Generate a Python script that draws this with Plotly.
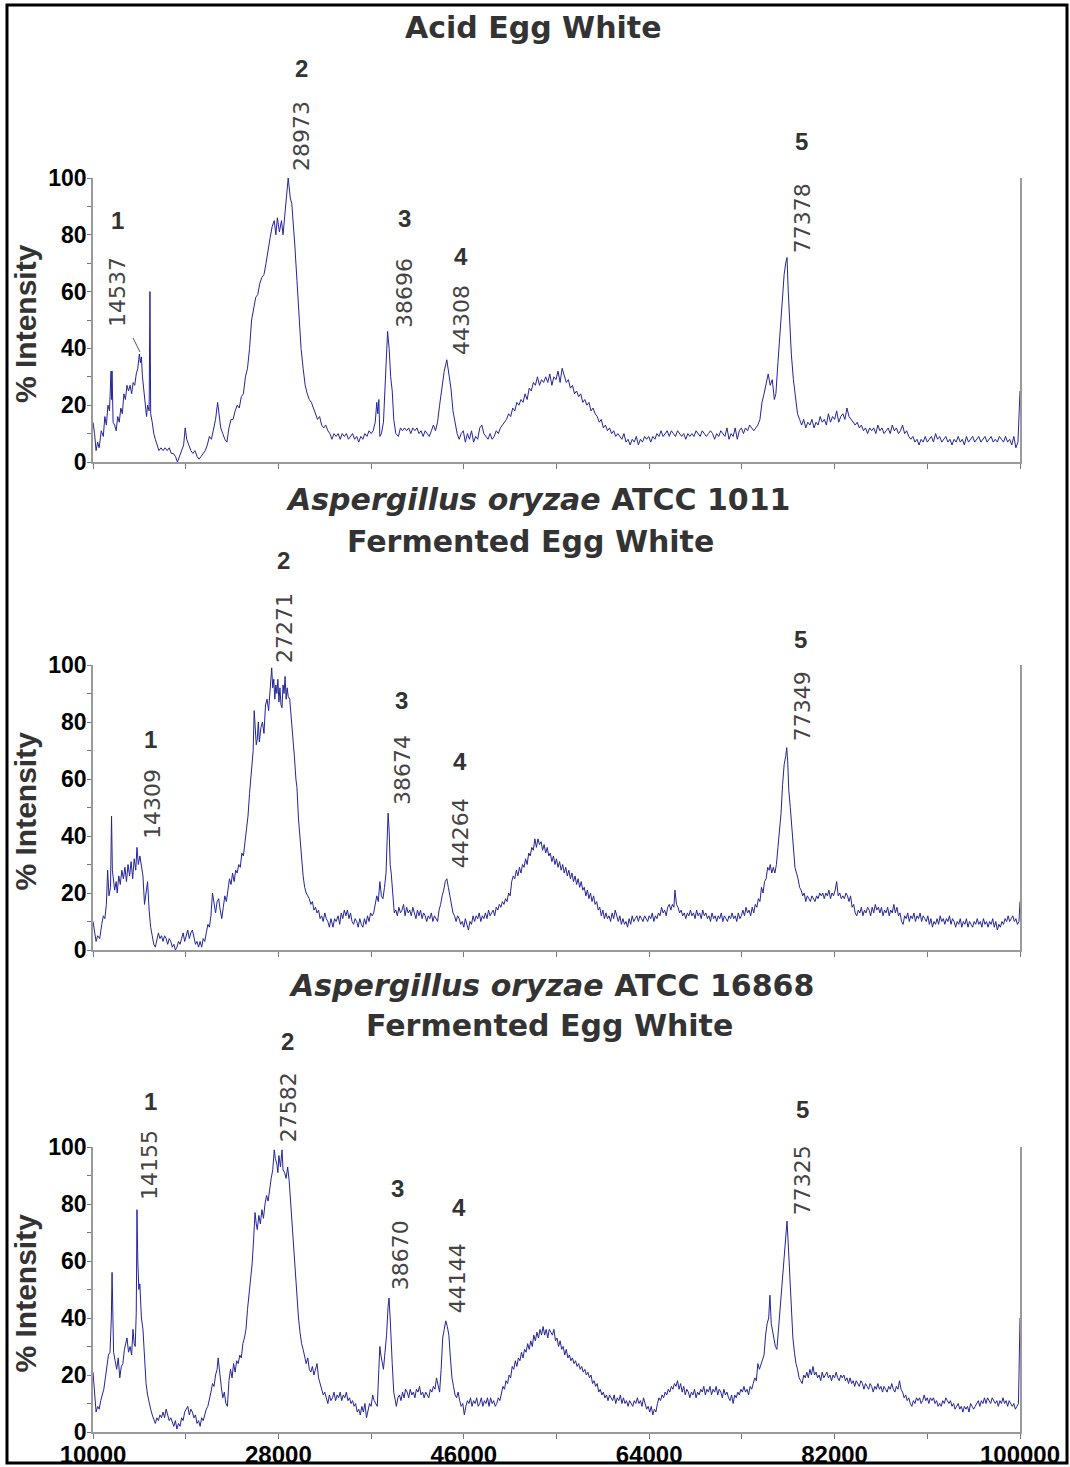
import plotly.graph_objects as go

# ---------------- DATA ----------------
# (mass in Da, % intensity)
acid_egg_white = [
(10000,14),(10150,10),(10300,4),(10450,7),(10600,5),(10800,11),(11000,9),(11150,16),(11300,13),(11450,20),(11600,18),(11750,32),(11800,22),(11850,32),(11950,14),(12100,13),(12250,11),(12400,16),(12550,14),(12700,19),(12850,17),(13000,24),(13150,22),(13300,27),(13450,25),(13600,27),(13750,24),(13900,28),(14050,27),(14200,31),(14350,33),(14500,38),(14600,35),(14700,37),(14800,30),(14900,27),(15050,22),(15200,16),(15300,20),(15450,18),(15530,60),(15600,17),(15750,14),(15900,10),(16050,8),(16200,6),(16400,4),(16600,5),(16800,4),(17000,5),(17200,4),(17400,5),(17600,3),(17800,3),(18000,2),(18200,0),(18400,2),(18600,4),(18800,6),(18950,12),(19100,8),(19300,6),(19500,4),(19700,3),(19900,4),(20100,2),(20300,1),(20500,2),(20700,3),(20900,4),(21100,6),(21300,9),(21500,8),(21700,12),(21900,15),(22100,21),(22250,17),(22400,12),(22600,10),(22800,8),(23000,7),(23200,12),(23400,15),(23600,15),(23800,18),(24000,20),(24200,19),(24400,23),(24600,24),(24800,30),(25000,33),(25200,40),(25400,50),(25600,54),(25800,58),(26000,59),(26200,63),(26400,65),(26600,66),(26800,70),(27000,75),(27200,79),(27400,83),(27600,85),(27750,80),(27900,86),(28100,81),(28300,85),(28450,80),(28650,90),(28800,94),(28950,100),(29050,96),(29150,93),(29300,91),(29450,84),(29600,76),(29800,64),(30000,50),(30200,40),(30400,33),(30600,27),(30800,24),(31000,22),(31200,21),(31400,19),(31600,17),(31800,15),(32000,16),(32200,13),(32400,12),(32600,13),(32800,11),(33000,10),(33200,8),(33400,10),(33600,9),(33800,10),(34000,8),(34200,10),(34400,9),(34600,10),(34800,8),(35000,9),(35200,10),(35400,8),(35600,9),(35800,7),(36000,9),(36200,8),(36400,10),(36600,9),(36800,11),(37000,10),(37200,11),(37400,14),(37550,21),(37650,17),(37750,22),(37850,9),(38000,10),(38200,14),(38400,30),(38600,46),(38750,40),(38900,30),(39050,25),(39200,15),(39400,10),(39650,9),(39850,12),(40050,11),(40250,12),(40450,11),(40650,12),(40850,10),(41050,12),(41250,11),(41450,12),(41650,10),(41850,11),(42050,9),(42250,11),(42450,10),(42650,9),(42850,11),(43050,13),(43250,11),(43450,14),(43650,20),(43850,25),(44100,32),(44350,36),(44550,31),(44750,26),(44950,18),(45150,14),(45350,10),(45550,8),(45750,10),(45950,11),(46150,7),(46350,10),(46550,8),(46750,11),(46950,7),(47150,9),(47350,8),(47550,12),(47750,13),(47950,10),(48150,9),(48350,8),(48550,10),(48750,8),(48950,9),(49150,11),(49350,10),(49550,12),(49750,13),(49950,14),(50150,15),(50350,17),(50550,16),(50750,19),(50950,18),(51150,21),(51350,20),(51550,22),(51750,21),(51950,24),(52150,22),(52350,26),(52550,25),(52750,28),(52950,27),(53150,30),(53350,27),(53550,29),(53750,28),(53950,30),(54150,28),(54350,31),(54550,27),(54750,30),(54950,29),(55150,32),(55350,28),(55550,33),(55750,30),(55950,28),(56150,29),(56350,26),(56550,27),(56750,24),(56950,25),(57150,23),(57350,24),(57550,21),(57750,22),(57950,20),(58150,21),(58350,18),(58550,19),(58750,17),(58950,16),(59150,14),(59350,15),(59550,12),(59750,13),(59950,11),(60150,12),(60350,10),(60550,11),(60750,9),(60950,10),(61150,9),(61350,8),(61550,10),(61750,7),(61950,8),(62150,6),(62350,8),(62550,7),(62750,9),(62950,6),(63150,8),(63350,7),(63550,9),(63750,8),(63950,9),(64150,7),(64350,9),(64550,8),(64750,10),(64950,9),(65150,11),(65350,9),(65550,10),(65750,11),(65950,9),(66150,11),(66350,10),(66550,9),(66750,11),(66950,10),(67150,9),(67350,10),(67550,8),(67750,10),(67950,9),(68150,10),(68350,9),(68550,11),(68750,10),(68950,9),(69150,11),(69350,10),(69550,9),(69750,10),(69950,11),(70150,10),(70350,8),(70550,10),(70750,9),(70950,11),(71150,10),(71350,9),(71550,12),(71750,8),(71950,10),(72150,9),(72350,12),(72550,8),(72750,11),(72950,12),(73150,10),(73350,12),(73550,11),(73750,13),(73950,12),(74150,11),(74350,12),(74550,13),(74750,15),(74950,21),(75150,24),(75350,27),(75550,31),(75750,27),(75950,29),(76150,22),(76300,24),(76500,35),(76700,45),(76900,58),(77100,66),(77250,70),(77380,72),(77500,60),(77650,48),(77800,38),(78000,29),(78200,22),(78400,17),(78600,15),(78800,13),(79000,15),(79200,12),(79400,14),(79600,13),(79800,15),(80000,12),(80200,14),(80400,13),(80600,16),(80800,14),(81000,15),(81200,13),(81400,17),(81600,14),(81800,16),(82000,15),(82200,18),(82400,14),(82600,16),(82800,17),(83000,15),(83200,19),(83400,16),(83600,15),(83800,14),(84000,13),(84200,14),(84400,12),(84600,13),(84800,11),(85000,12),(85200,10),(85400,12),(85600,11),(85800,12),(86000,10),(86200,13),(86400,11),(86600,12),(86800,10),(87000,11),(87200,12),(87400,10),(87600,13),(87800,11),(88000,12),(88200,10),(88400,11),(88600,13),(88800,10),(89000,11),(89200,9),(89400,8),(89600,9),(89800,7),(90000,8),(90200,6),(90400,8),(90600,7),(90800,9),(91000,7),(91200,8),(91400,9),(91600,7),(91800,10),(92000,8),(92200,9),(92400,7),(92600,8),(92800,9),(93000,7),(93200,8),(93400,6),(93600,8),(93800,7),(94000,9),(94200,7),(94400,8),(94600,6),(94800,9),(95000,7),(95200,8),(95400,9),(95600,7),(95800,8),(96000,9),(96200,7),(96400,8),(96600,9),(96800,7),(97000,8),(97200,9),(97400,7),(97600,8),(97800,7),(98000,9),(98200,8),(98400,7),(98600,9),(98800,7),(99000,8),(99200,6),(99400,9),(99600,5),(99800,7),(100000,25)]

atcc1011_egg_white = [
(10000,10),(10150,6),(10300,3),(10450,5),(10650,4),(10850,9),(11000,12),(11150,11),(11300,16),(11420,28),(11550,19),(11700,22),(11800,47),(11880,28),(11950,26),(12100,21),(12250,24),(12350,20),(12500,26),(12650,23),(12800,28),(12950,25),(13100,29),(13250,24),(13400,30),(13550,26),(13700,31),(13850,25),(14000,32),(14150,28),(14270,36),(14400,30),(14550,33),(14700,29),(14850,26),(15000,16),(15150,20),(15300,24),(15450,14),(15600,8),(15750,5),(15900,2),(16050,1),(16200,4),(16350,6),(16500,4),(16650,5),(16800,3),(16950,5),(17100,4),(17250,2),(17400,4),(17550,3),(17700,1),(17850,2),(18000,0),(18150,1),(18300,3),(18450,2),(18600,4),(18750,6),(18900,3),(19050,5),(19200,7),(19350,4),(19500,6),(19650,7),(19800,4),(19950,2),(20100,3),(20250,1),(20400,3),(20550,1),(20700,4),(20850,3),(21000,6),(21150,9),(21300,8),(21450,12),(21600,20),(21750,16),(21900,13),(22050,17),(22200,18),(22350,14),(22500,11),(22650,15),(22800,19),(22950,17),(23100,22),(23250,25),(23400,23),(23550,27),(23700,24),(23850,28),(24000,27),(24150,30),(24300,29),(24450,34),(24600,33),(24750,38),(24900,42),(25050,47),(25200,55),(25350,62),(25450,64),(25550,70),(25650,84),(25750,78),(25850,72),(25950,74),(26050,80),(26150,73),(26300,78),(26450,80),(26600,76),(26750,86),(26900,88),(27050,84),(27200,93),(27350,99),(27450,92),(27550,95),(27650,88),(27750,93),(27850,90),(27950,95),(28050,87),(28150,92),(28250,86),(28350,85),(28450,93),(28550,90),(28650,96),(28750,88),(28850,92),(28950,89),(29100,88),(29250,82),(29400,76),(29550,68),(29700,60),(29800,57),(29950,46),(30100,39),(30250,31),(30400,26),(30550,22),(30700,20),(30850,19),(31000,18),(31150,16),(31300,17),(31450,14),(31600,15),(31750,13),(31900,14),(32050,11),(32200,12),(32350,10),(32500,13),(32650,11),(32800,10),(32950,8),(33100,11),(33300,8),(33450,11),(33600,10),(33800,12),(33950,9),(34100,13),(34250,11),(34400,14),(34550,12),(34700,14),(34850,11),(35000,13),(35150,10),(35300,9),(35450,11),(35600,10),(35750,8),(35900,11),(36050,9),(36200,8),(36350,11),(36500,9),(36650,12),(36800,10),(36950,13),(37100,12),(37250,13),(37400,16),(37550,19),(37700,17),(37850,24),(38000,19),(38150,18),(38300,22),(38450,27),(38550,38),(38650,48),(38750,42),(38850,30),(38950,27),(39100,18),(39250,13),(39400,14),(39550,12),(39700,15),(39850,13),(40000,14),(40150,16),(40300,12),(40450,15),(40600,13),(40750,14),(40900,12),(41050,15),(41200,13),(41350,11),(41500,14),(41650,12),(41800,14),(41950,11),(42100,13),(42250,12),(42400,10),(42550,12),(42700,11),(42850,13),(43000,10),(43150,12),(43300,11),(43450,10),(43600,14),(43750,16),(43900,19),(44050,21),(44200,24),(44350,25),(44500,22),(44650,19),(44800,15),(44950,13),(45100,12),(45250,10),(45400,12),(45550,11),(45700,9),(45850,10),(46000,8),(46150,11),(46300,9),(46450,7),(46600,10),(46750,9),(46900,12),(47050,10),(47200,12),(47350,11),(47500,13),(47650,10),(47800,12),(47950,11),(48100,13),(48250,11),(48400,14),(48550,12),(48700,13),(48850,14),(49000,12),(49150,15),(49300,14),(49450,16),(49600,15),(49750,17),(49900,16),(50050,18),(50200,17),(50350,20),(50500,19),(50650,24),(50800,26),(50950,25),(51100,28),(51250,26),(51400,29),(51550,27),(51700,30),(51850,29),(52000,32),(52150,30),(52300,34),(52450,33),(52600,36),(52750,35),(52900,39),(53050,36),(53200,39),(53350,37),(53500,38),(53650,35),(53800,37),(53950,34),(54100,36),(54250,33),(54400,34),(54550,31),(54700,33),(54850,30),(55000,32),(55150,29),(55300,31),(55450,28),(55600,30),(55750,27),(55900,29),(56050,26),(56200,28),(56350,25),(56500,27),(56650,24),(56800,26),(56950,23),(57100,25),(57250,22),(57400,24),(57550,21),(57700,22),(57850,19),(58000,21),(58150,18),(58300,20),(58450,17),(58600,19),(58750,16),(58900,17),(59050,14),(59200,15),(59350,12),(59500,14),(59650,11),(59800,13),(59950,11),(60100,12),(60250,10),(60400,13),(60550,11),(60700,14),(60850,12),(61000,10),(61150,12),(61300,9),(61450,11),(61600,9),(61750,10),(61900,8),(62050,11),(62200,9),(62350,12),(62500,10),(62650,11),(62800,12),(62950,10),(63100,12),(63250,11),(63400,10),(63550,12),(63700,11),(63850,10),(64000,12),(64150,11),(64300,13),(64450,10),(64600,12),(64750,11),(64900,13),(65050,12),(65200,15),(65350,13),(65500,14),(65650,12),(65800,15),(65950,16),(66100,14),(66250,16),(66400,15),(66500,21),(66650,16),(66800,15),(66950,13),(67100,14),(67250,12),(67400,13),(67550,11),(67700,13),(67850,12),(68000,14),(68150,12),(68300,13),(68450,11),(68600,14),(68750,12),(68900,13),(69050,11),(69200,14),(69350,12),(69500,13),(69650,11),(69800,12),(69950,10),(70100,13),(70250,11),(70400,12),(70550,10),(70700,12),(70850,11),(71000,13),(71150,10),(71300,12),(71450,11),(71600,10),(71750,12),(71900,11),(72050,13),(72200,11),(72350,12),(72500,10),(72650,13),(72800,11),(72950,12),(73100,14),(73250,12),(73400,15),(73550,13),(73700,14),(73850,12),(74000,15),(74150,13),(74300,16),(74450,15),(74600,18),(74750,17),(74900,22),(75050,20),(75200,24),(75350,25),(75500,29),(75650,28),(75750,30),(75900,27),(76050,29),(76200,27),(76350,30),(76500,36),(76650,42),(76800,48),(76950,58),(77100,65),(77250,68),(77350,71),(77450,66),(77550,56),(77700,50),(77850,42),(78000,35),(78150,29),(78300,27),(78450,25),(78600,22),(78750,21),(78900,19),(79050,20),(79200,17),(79350,19),(79500,18),(79650,17),(79800,19),(79950,18),(80100,17),(80250,19),(80400,18),(80550,20),(80700,19),(80850,20),(81000,18),(81150,20),(81300,19),(81450,21),(81600,18),(81750,20),(81900,19),(82050,21),(82200,24),(82350,19),(82500,20),(82650,18),(82800,19),(82950,18),(83100,20),(83250,19),(83400,17),(83550,19),(83700,15),(83850,16),(84000,13),(84150,12),(84300,14),(84450,13),(84600,15),(84750,12),(84900,14),(85050,13),(85200,15),(85350,14),(85500,12),(85650,15),(85800,13),(85950,16),(86100,14),(86250,15),(86400,13),(86550,15),(86700,12),(86850,14),(87000,13),(87150,15),(87300,12),(87450,14),(87600,13),(87750,16),(87900,13),(88050,15),(88200,12),(88350,13),(88500,10),(88650,9),(88800,12),(88950,11),(89100,13),(89250,10),(89400,12),(89550,11),(89700,13),(89850,10),(90000,12),(90150,11),(90300,13),(90450,10),(90600,12),(90750,11),(90900,10),(91050,12),(91200,9),(91350,11),(91500,8),(91650,10),(91800,9),(91950,11),(92100,9),(92250,12),(92400,10),(92550,11),(92700,9),(92850,11),(93000,10),(93150,12),(93300,9),(93450,11),(93600,10),(93750,8),(93900,10),(94050,9),(94200,11),(94350,8),(94500,10),(94650,9),(94800,11),(94950,8),(95100,10),(95250,9),(95400,8),(95550,10),(95700,9),(95850,11),(96000,9),(96150,10),(96300,8),(96450,11),(96600,9),(96750,10),(96900,8),(97050,10),(97200,9),(97350,11),(97500,8),(97650,10),(97800,7),(97950,9),(98100,8),(98250,10),(98400,9),(98550,11),(98700,10),(98850,12),(99000,10),(99150,11),(99300,12),(99450,10),(99600,11),(99750,9),(99900,10),(100000,17)]

atcc16868_egg_white = [
(10000,21),(10150,12),(10300,7),(10450,9),(10600,8),(10750,11),(10900,13),(11050,15),(11200,19),(11350,24),(11500,27),(11650,28),(11780,40),(11850,56),(11920,31),(12000,28),(12150,25),(12300,22),(12450,26),(12600,19),(12750,23),(12900,24),(13050,29),(13200,31),(13300,33),(13450,28),(13600,30),(13750,27),(13880,36),(14000,31),(14100,30),(14200,42),(14270,78),(14350,60),(14450,50),(14550,52),(14700,40),(14850,36),(15000,25),(15150,17),(15300,13),(15450,10),(15600,8),(15750,6),(15900,4),(16050,3),(16200,5),(16350,4),(16500,6),(16650,5),(16800,7),(16950,5),(17100,8),(17250,6),(17400,4),(17550,5),(17700,3),(17850,2),(18000,4),(18150,1),(18300,3),(18450,2),(18600,5),(18750,4),(18900,7),(19050,8),(19200,9),(19350,6),(19500,8),(19650,7),(19800,5),(19950,6),(20100,3),(20250,4),(20400,2),(20550,5),(20700,4),(20850,6),(21000,8),(21150,9),(21300,11),(21450,14),(21600,17),(21750,16),(21900,20),(22050,22),(22150,26),(22300,20),(22450,16),(22600,12),(22750,14),(22900,10),(23050,9),(23200,18),(23350,22),(23500,19),(23650,24),(23800,21),(23950,25),(24100,24),(24250,27),(24400,26),(24550,31),(24700,33),(24850,36),(25000,43),(25150,48),(25300,55),(25450,59),(25600,68),(25730,77),(25850,73),(25950,71),(26100,76),(26250,73),(26400,78),(26550,75),(26700,80),(26850,83),(27000,81),(27150,86),(27300,89),(27450,92),(27600,99),(27700,96),(27850,94),(27950,91),(28050,97),(28200,93),(28350,99),(28450,92),(28600,91),(28750,89),(28900,93),(29050,88),(29200,80),(29350,74),(29500,65),(29650,57),(29800,47),(29950,40),(30100,35),(30250,31),(30400,29),(30550,26),(30700,24),(30850,26),(31000,22),(31150,21),(31300,23),(31450,20),(31600,22),(31750,24),(31900,19),(32050,17),(32200,15),(32350,13),(32500,14),(32650,12),(32800,10),(32950,13),(33100,11),(33250,12),(33400,14),(33550,11),(33700,13),(33850,12),(34000,14),(34150,11),(34300,13),(34450,12),(34600,14),(34750,11),(34900,12),(35050,10),(35200,11),(35350,9),(35500,10),(35650,7),(35800,8),(35950,6),(36100,9),(36250,7),(36400,10),(36550,5),(36700,8),(36850,10),(37000,9),(37150,13),(37300,11),(37450,10),(37600,9),(37750,22),(37850,30),(37950,27),(38100,23),(38200,22),(38350,28),(38500,34),(38650,44),(38740,47),(38850,40),(38950,30),(39050,24),(39200,14),(39350,10),(39450,9),(39600,12),(39750,13),(39900,11),(40050,14),(40200,12),(40350,15),(40500,14),(40650,12),(40800,15),(40950,13),(41100,14),(41250,12),(41400,15),(41550,14),(41700,16),(41850,13),(42000,14),(42150,12),(42300,14),(42450,13),(42600,12),(42750,15),(42900,14),(43050,16),(43200,15),(43350,19),(43500,16),(43650,14),(43800,22),(43950,33),(44100,36),(44250,39),(44400,37),(44550,34),(44700,26),(44850,19),(45000,16),(45150,13),(45300,12),(45450,14),(45600,11),(45750,9),(45900,10),(46050,6),(46200,9),(46350,11),(46500,10),(46650,12),(46800,9),(46950,11),(47100,10),(47250,12),(47400,9),(47550,10),(47700,12),(47850,9),(48000,11),(48150,10),(48300,12),(48450,9),(48600,12),(48750,10),(48900,11),(49050,9),(49200,10),(49350,12),(49500,11),(49650,14),(49800,16),(49950,15),(50100,18),(50250,17),(50400,20),(50550,19),(50700,23),(50850,22),(51000,25),(51150,23),(51300,26),(51450,25),(51600,28),(51750,26),(51900,29),(52050,28),(52200,31),(52350,29),(52500,32),(52650,30),(52800,34),(52950,32),(53100,35),(53250,33),(53400,36),(53550,34),(53700,37),(53850,34),(54000,36),(54150,33),(54300,36),(54450,35),(54600,34),(54750,36),(54900,32),(55050,33),(55200,30),(55350,32),(55500,29),(55650,30),(55800,27),(55950,29),(56100,26),(56250,27),(56400,25),(56550,26),(56700,24),(56850,25),(57000,23),(57150,24),(57300,22),(57450,23),(57600,21),(57750,22),(57900,20),(58050,21),(58200,19),(58350,20),(58500,17),(58650,18),(58800,16),(58950,17),(59100,14),(59250,15),(59400,13),(59550,14),(59700,12),(59850,13),(60000,11),(60150,13),(60300,12),(60450,11),(60600,13),(60750,10),(60900,12),(61050,11),(61200,13),(61350,10),(61500,12),(61650,10),(61800,11),(61950,9),(62100,11),(62250,10),(62400,9),(62550,11),(62700,10),(62850,12),(63000,10),(63150,11),(63300,9),(63450,12),(63600,10),(63750,8),(63900,9),(64050,7),(64200,9),(64350,6),(64500,8),(64650,7),(64800,10),(64950,12),(65100,11),(65250,13),(65400,12),(65550,14),(65700,13),(65850,15),(66000,14),(66150,16),(66300,15),(66450,17),(66600,16),(66750,18),(66900,15),(67050,17),(67200,14),(67350,16),(67500,13),(67650,15),(67800,14),(67950,12),(68100,14),(68250,13),(68400,15),(68550,12),(68700,14),(68850,13),(69000,15),(69150,14),(69300,16),(69450,13),(69600,15),(69750,14),(69900,16),(70050,13),(70200,15),(70350,14),(70500,16),(70650,13),(70800,15),(70950,14),(71100,12),(71250,15),(71400,13),(71550,14),(71700,12),(71850,11),(72000,13),(72150,10),(72300,13),(72450,12),(72600,14),(72750,13),(72900,15),(73050,14),(73200,16),(73350,14),(73500,15),(73650,13),(73800,16),(73950,15),(74100,17),(74250,19),(74400,18),(74550,24),(74700,22),(74850,24),(75000,25),(75150,27),(75300,34),(75450,38),(75600,40),(75720,48),(75850,38),(75950,36),(76100,33),(76250,30),(76400,29),(76550,36),(76700,40),(76850,48),(77000,54),(77150,62),(77300,70),(77380,74),(77500,66),(77650,55),(77800,44),(77950,33),(78100,28),(78250,24),(78400,22),(78550,19),(78700,18),(78850,17),(79000,20),(79150,19),(79300,21),(79450,19),(79600,22),(79750,20),(79900,23),(80050,20),(80200,21),(80350,19),(80500,20),(80650,18),(80800,21),(80950,19),(81100,20),(81250,21),(81400,19),(81550,20),(81700,18),(81850,20),(82000,19),(82150,21),(82300,19),(82450,18),(82600,20),(82750,19),(82900,20),(83050,18),(83200,19),(83350,17),(83500,19),(83650,17),(83800,18),(83950,16),(84100,18),(84250,17),(84400,16),(84550,18),(84700,17),(84850,15),(85000,17),(85150,16),(85300,15),(85450,17),(85600,16),(85750,14),(85900,16),(86050,15),(86200,17),(86350,15),(86500,16),(86650,14),(86800,16),(86950,15),(87100,14),(87250,16),(87400,15),(87550,17),(87700,15),(87850,14),(88000,16),(88150,15),(88300,18),(88450,15),(88600,14),(88750,12),(88900,13),(89050,11),(89200,12),(89350,10),(89500,9),(89650,11),(89800,10),(89950,12),(90100,11),(90250,12),(90400,10),(90550,11),(90700,13),(90850,11),(91000,12),(91150,10),(91300,12),(91450,11),(91600,12),(91750,10),(91900,11),(92050,9),(92200,10),(92350,9),(92500,11),(92650,10),(92800,12),(92950,11),(93100,10),(93250,11),(93400,9),(93550,10),(93700,8),(93850,9),(94000,10),(94150,8),(94300,9),(94450,7),(94600,9),(94750,8),(94900,9),(95050,7),(95200,10),(95350,9),(95500,8),(95650,9),(95800,10),(95950,11),(96100,9),(96250,11),(96400,10),(96550,12),(96700,10),(96850,12),(97000,11),(97150,10),(97300,12),(97450,11),(97600,10),(97750,11),(97900,9),(98050,11),(98200,10),(98350,12),(98500,10),(98650,11),(98800,9),(98950,11),(99100,10),(99250,9),(99400,10),(99550,8),(99700,9),(99850,10),(100000,40)]

peak_numbers = ["1", "2", "3", "4", "5"]
peaks_acid = [14537, 28973, 38696, 44308, 77378]
peaks_1011 = [14309, 27271, 38674, 44264, 77349]
peaks_16868 = [14155, 27582, 38670, 44144, 77325]

x_tick_vals = [10000, 19000, 28000, 37000, 46000, 55000, 64000, 73000, 82000, 91000, 100000]
x_tick_text = ["10000", "", "28000", "", "46000", "", "64000", "", "82000", "", "100000"]
y_tick_vals = [0, 10, 20, 30, 40, 50, 60, 70, 80, 90, 100]
y_tick_text = ["0", "", "20", "", "40", "", "60", "", "80", "", "100"]

titles = [
    ["Acid Egg White"],
    ["<i>Aspergillus oryzae</i> ATCC 1011", "Fermented Egg White"],
    ["<i>Aspergillus oryzae</i> ATCC 16868", "Fermented Egg White"],
]

# ---------------- LAYOUT CONFIG ----------------
W, H = 1070, 1467
PX0, PX1 = 93, 1020
panel_px = [(178, 462), (665, 950), (1147, 1432)]   # top, bottom in pixels
title_px = [[(533, 27)], [(538, 500), (530, 541)], [(551, 985), (550, 1025)]]
# label placement: (number x [Da], number y [fraction of axis height], mass-label x, mass-label y)
label_pos = [
    [(12330, 0.849, 12428, 0.599), (30197, 1.384, 30294, 1.148), (40198, 0.856, 40198, 0.595),
     (45733, 0.725, 45733, 0.500), (78747, 1.127, 78844, 0.859)],
    [(15535, 0.737, 15729, 0.512), (28449, 1.365, 28643, 1.130), (39907, 0.877, 40101, 0.632),
     (45636, 0.660, 45636, 0.410), (78650, 1.090, 78844, 0.856)],
    [(15535, 1.160, 15535, 0.937), (28837, 1.370, 28935, 1.140), (39518, 0.856, 39810, 0.620),
     (45539, 0.786, 45344, 0.540), (78844, 1.130, 78844, 0.884)],
]

series = [acid_egg_white, atcc1011_egg_white, atcc16868_egg_white]
peaks = [peaks_acid, peaks_1011, peaks_16868]

LINE_COLOR = "#24249a"
AXIS_COLOR = "#9a9a9a"
SANS = "Liberation Sans, Arial, sans-serif"

fig = go.Figure()
layout = dict(
    width=W, height=H, margin=dict(l=0, r=0, t=0, b=0, pad=0, autoexpand=False),
    paper_bgcolor="white", plot_bgcolor="white", showlegend=False,
)
annotations = []
shapes = []

for i, data in enumerate(series):
    n = "" if i == 0 else str(i + 1)
    top, bot = panel_px[i]
    mass = [p[0] for p in data]
    inten = [p[1] for p in data]
    fig.add_trace(go.Scatter(x=mass, y=inten, mode="lines",
                             line=dict(color=LINE_COLOR, width=1),
                             xaxis="x" + n, yaxis="y" + n, hoverinfo="skip"))
    last = (i == len(series) - 1)
    layout["xaxis" + n] = dict(
        domain=[PX0 / W, PX1 / W], range=[10000, 100000], anchor="y" + n,
        showline=True, linecolor=AXIS_COLOR, linewidth=2,
        ticks="outside", ticklen=5, tickwidth=1, tickcolor="#777",
        tickmode="array", tickvals=x_tick_vals,
        ticktext=x_tick_text if last else [""] * len(x_tick_vals),
        showticklabels=last, automargin=False, ticklabelstandoff=-5,
        tickfont=dict(family=SANS, size=24, color="black", weight="bold"),
        showgrid=False, zeroline=False, fixedrange=True,
    )
    layout["yaxis" + n] = dict(
        domain=[1 - bot / H, 1 - top / H], range=[0, 100], anchor="x" + n,
        showline=True, linecolor=AXIS_COLOR, linewidth=1.5, mirror=True,
        ticks="outside", ticklen=4, tickwidth=1, tickcolor="#777",
        tickmode="array", tickvals=y_tick_vals, ticktext=y_tick_text,
        automargin=False, ticklabelstandoff=-4,
        tickfont=dict(family=SANS, size=23, color="black", weight="bold"),
        showgrid=False, zeroline=False, fixedrange=True,
    )
    # y axis title
    annotations.append(dict(
        text="% Intensity", xref="paper", yref="paper",
        x=25 / W, y=1 - ((top + bot) / 2 + 4) / H, textangle=-90,
        showarrow=False, xanchor="center", yanchor="middle",
        font=dict(family=SANS, size=30, color="#333", weight="bold")))
    # titles
    for txt, (tx, ty) in zip(titles[i], title_px[i]):
        annotations.append(dict(
            text=txt, xref="paper", yref="paper", x=tx / W, y=1 - ty / H,
            showarrow=False, xanchor="center", yanchor="middle",
            font=dict(family="DejaVu Sans, sans-serif", size=30, color="#333", weight="bold")))
    # peak labels
    for num, pm, (nx, ny, mx, my) in zip(peak_numbers, peaks[i], label_pos[i]):
        annotations.append(dict(
            text=num, xref="x" + n, yref="y" + n + " domain", x=nx, y=ny, showarrow=False,
            xanchor="center", yanchor="middle",
            font=dict(family=SANS, size=24, color="#333", weight="bold")))
        annotations.append(dict(
            text=str(pm), xref="x" + n, yref="y" + n + " domain", x=mx, y=my, showarrow=False,
            textangle=-90, xanchor="center", yanchor="middle",
            font=dict(family="DejaVu Sans, sans-serif", size=22, color="#444")))

# leader line for peak 1 label in top panel
shapes.append(dict(type="line", xref="x", yref="y", x0=13884, y0=43.7, x1=14564, y1=38.7,
                   line=dict(color="#555", width=1)))
# outer frame
shapes.append(dict(type="rect", xref="paper", yref="paper",
                   x0=7 / W, x1=1067 / W, y0=1 - 1463 / H, y1=1 - 5 / H,
                   line=dict(color="black", width=3), fillcolor="rgba(0,0,0,0)"))

layout["annotations"] = annotations
layout["shapes"] = shapes
fig.update_layout(**layout)
fig.write_html("out.html")
